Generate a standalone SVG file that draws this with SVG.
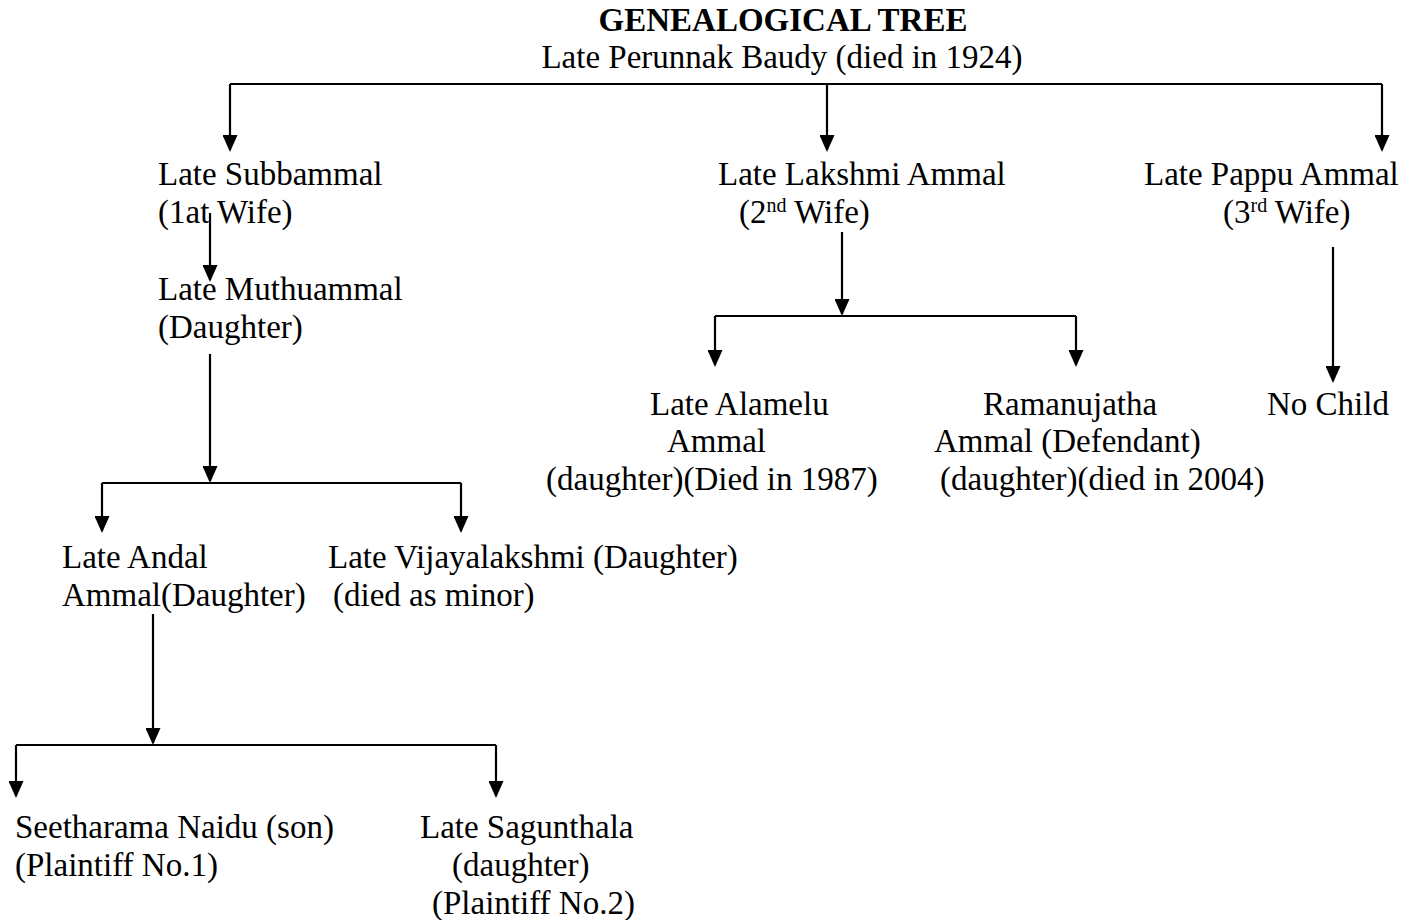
<svg xmlns="http://www.w3.org/2000/svg" width="1414" height="920" viewBox="0 0 1414 920">
<defs>
<style>
text{font-family:"Liberation Serif","Times New Roman",serif;font-size:33px;fill:#000}
.title{font-weight:bold}
.sup{font-size:20px}
.ln{fill:none;stroke:#000;stroke-width:2.2;marker-end:url(#ah)}
.br{fill:none;stroke:#000;stroke-width:2.2}
</style>
<marker id="ah" viewBox="0 0 17 15" refX="15" refY="7.5" markerWidth="17" markerHeight="15" markerUnits="userSpaceOnUse" orient="auto">
<path d="M0,0 L17,7.5 L0,15 z" fill="#000"/>
</marker>
</defs>
<rect width="1414" height="920" fill="#fff"/>
<g id="connectors">
<path class="br" d="M230,84 H1382"/>
<path class="ln" d="M230,84 V150"/>
<path class="ln" d="M827,84 V150"/>
<path class="ln" d="M1382,84 V150"/>
<path class="ln" d="M210,213 V280"/>
<path class="ln" d="M210,354 V481"/>
<path class="br" d="M102,483 H461"/>
<path class="ln" d="M102,483 V531"/>
<path class="ln" d="M461,483 V531"/>
<path class="ln" d="M153,614 V743"/>
<path class="br" d="M16,745 H496"/>
<path class="ln" d="M16,745 V796"/>
<path class="ln" d="M496,745 V796"/>
<path class="ln" d="M842,232 V314"/>
<path class="br" d="M715,316 H1076"/>
<path class="ln" d="M715,316 V365"/>
<path class="ln" d="M1076,316 V365"/>
<path class="ln" d="M1333,247 V381"/>
</g>
<g id="title"><text class="title" x="783" y="31" text-anchor="middle">GENEALOGICAL TREE</text></g>
<g id="root"><text x="782" y="68" text-anchor="middle">Late Perunnak Baudy (died in 1924)</text></g>
<g id="subbammal"><text x="158" y="185">Late Subbammal</text><text x="158" y="223">(1at Wife)</text></g>
<g id="lakshmi"><text x="718" y="185">Late Lakshmi Ammal</text><text x="739" y="223">(2<tspan class="sup" dy="-11">nd</tspan><tspan dy="11"> Wife)</tspan></text></g>
<g id="pappu"><text x="1144" y="185">Late Pappu Ammal</text><text x="1223" y="223">(3<tspan class="sup" dy="-11">rd</tspan><tspan dy="11"> Wife)</tspan></text></g>
<g id="muthuammal"><text x="158" y="300">Late Muthuammal</text><text x="158" y="338">(Daughter)</text></g>
<g id="alamelu"><text x="650" y="415">Late Alamelu</text><text x="667" y="452">Ammal</text><text x="546" y="490">(daughter)(Died in 1987)</text></g>
<g id="ramanujatha"><text x="983" y="415">Ramanujatha</text><text x="934" y="452">Ammal (Defendant)</text><text x="940" y="490">(daughter)(died in 2004)</text></g>
<g id="nochild"><text x="1267" y="415">No Child</text></g>
<g id="andal"><text x="62" y="568">Late Andal</text><text x="62" y="606">Ammal(Daughter)</text></g>
<g id="vijayalakshmi"><text x="328" y="568">Late Vijayalakshmi (Daughter)</text><text x="333" y="606">(died as minor)</text></g>
<g id="seetharama"><text x="15" y="838">Seetharama Naidu (son)</text><text x="15" y="876">(Plaintiff No.1)</text></g>
<g id="sagunthala"><text x="420" y="838">Late Sagunthala</text><text x="452" y="876">(daughter)</text><text x="432" y="914">(Plaintiff No.2)</text></g>
</svg>
